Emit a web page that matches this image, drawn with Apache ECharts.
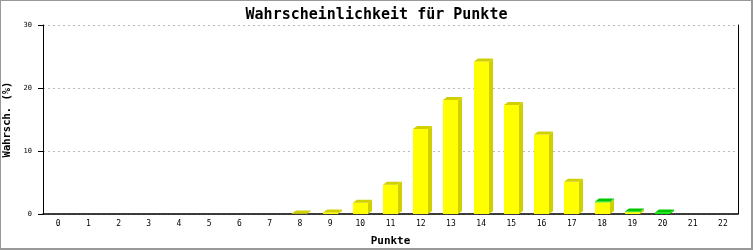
<!DOCTYPE html>
<html>
<head>
<meta charset="utf-8">
<script src="https://cdn.jsdelivr.net/npm/echarts@6/dist/echarts.min.js"></script>
<style>
html,body{margin:0;padding:0;background:#fff;}
#wrap{position:relative;width:753px;height:250px;}
#c{width:753px;height:250px;}
#frame{position:absolute;left:0;top:0;width:753px;height:250px;box-sizing:border-box;border-left:1px solid #999;border-top:1px solid #999;border-right:2px solid #999;border-bottom:2px solid #999;pointer-events:none;}
</style>
</head>
<body>
<div id="wrap"><div id="c"></div><div id="frame"></div></div>
<script>
const categories = ['0','1','2','3','4','5','6','7','8','9','10','11','12','13','14','15','16','17','18','19','20','21','22'];
const yellowValues = [0,0,0,0,0,0,0,0,0.08,0.25,1.8,4.65,13.5,18.1,24.2,17.3,12.6,5.1,1.85,0.3,0,0,0];
const greenValues  = [0,0,0,0,0,0,0,0,0,0,0,0,0,0,0,0,0,0,0.12,0.08,0.25,0,0];
const yTicks = [0,10,20,30];

const chart = echarts.init(document.getElementById('c'), null, {renderer:'canvas'});
const FONT = '"DejaVu Sans Mono", monospace';

function makeRender(front, dark, isTopLayer) {
  return function (params, api) {
    const i = api.value(0);
    const base = api.value(1);
    const top = api.value(2);
    if (top - base <= 0) return null;
    const band = api.size([1, 0])[0];
    const w = Math.round(band * 0.5);
    const pc = api.coord([i, top]);
    const pb = api.coord([i, base]);
    const x0 = Math.round(pc[0] - w / 2);
    const x1 = x0 + w;
    const yt = pc[1];
    const yb = pb[1];
    const dx = 4, dy = 3;
    const children = [
      {type:'rect', shape:{x:x0, y:yt, width:w, height:yb - yt}, style:{fill:front}},
      {type:'polygon', shape:{points:[[x1,yt],[x1+dx,yt-dy],[x1+dx,yb-dy],[x1,yb]]}, style:{fill:dark}}
    ];
    if (isTopLayer(i)) {
      children.push({type:'polygon', shape:{points:[[x0,yt],[x0+dx,yt-dy],[x1+dx,yt-dy],[x1,yt]]}, style:{fill:dark}});
    }
    return {type:'group', children:children};
  };
}

const yellowData = yellowValues.map((v, i) => [i, 0, v]);
const greenData = greenValues.map((v, i) => [i, yellowValues[i], yellowValues[i] + v]);

chart.setOption({
  animation: false,
  title: {
    text: 'Wahrscheinlichkeit für Punkte',
    left: 'center', top: 3,
    textStyle: {fontFamily: FONT, fontSize: 15, fontWeight: 'bold', color: '#000'}
  },
  grid: {left: 43, right: 15, top: 25, bottom: 36, outerBoundsMode: 'none', containLabel: false},
  xAxis: {
    type: 'category',
    data: categories,
    name: 'Punkte',
    nameLocation: 'middle',
    nameGap: 22,
    nameTextStyle: {fontFamily: FONT, fontSize: 11, fontWeight: 'bold', color: '#000'},
    axisLine: {lineStyle: {color: '#000', width: 1.5}},
    axisTick: {show: false},
    axisLabel: {fontFamily: FONT, fontSize: 8, color: '#000', margin: 6, interval: 0}
  },
  yAxis: [{
    type: 'value',
    min: yTicks[0], max: yTicks[yTicks.length - 1], interval: 10,
    name: 'Wahrsch. (%)',
    nameLocation: 'middle',
    nameGap: 23,
    nameTextStyle: {fontFamily: FONT, fontSize: 10.5, fontWeight: 'bold', color: '#000'},
    axisLine: {show: true, lineStyle: {color: '#000', width: 1}},
    axisTick: {show: true, length: 5, lineStyle: {color: '#000'}},
    axisLabel: {fontFamily: FONT, fontSize: 7, color: '#000', margin: 11},
    splitLine: {show: true, lineStyle: {color: '#bbb', type: [2, 3], width: 1}}
  }, {
    type: 'value', position: 'right',
    min: yTicks[0], max: yTicks[yTicks.length - 1], interval: 10,
    axisLine: {show: true, lineStyle: {color: '#000', width: 1}},
    axisTick: {show: false}, axisLabel: {show: false}, splitLine: {show: false}
  }],
  series: [
    {
      type: 'custom',
      renderItem: makeRender('#ffff00', '#d0d000', i => !(greenValues[i] > 0)),
      encode: {x: 0, y: [1, 2]},
      data: yellowData
    },
    {
      type: 'custom',
      renderItem: makeRender('#00ee00', '#00c800', i => true),
      encode: {x: 0, y: [1, 2]},
      data: greenData
    }
  ]
});
</script>
</body>
</html>
